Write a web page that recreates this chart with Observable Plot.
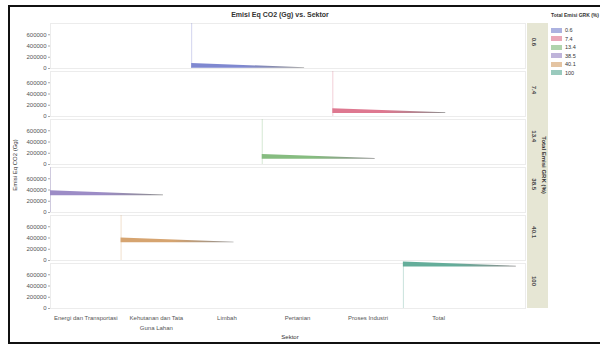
<!DOCTYPE html>
<html>
<head>
<meta charset="utf-8">
<script src="https://cdn.jsdelivr.net/npm/d3@7"></script>
<script src="https://cdn.jsdelivr.net/npm/@observablehq/plot@0.6"></script>
<style>
  html, body { margin: 0; padding: 0; background: #fff; }
  #chart { position: relative; width: 600px; height: 345px; overflow: hidden;
           font-family: "Liberation Sans", Arial, sans-serif; color: #333; }
  #chart svg { position: absolute; left: 0; top: 0; }
  .frame-border { position: absolute; left: 8px; top: 5px; width: 600px; height: 335px;
                  border-left: 2px solid #111; border-top: 2px solid #111; border-bottom: 2px solid #111; }
  .title { position: absolute; top: 11px; left: 160px; width: 240px; text-align: center;
           font-size: 7px; font-weight: bold; color: #333; }
  .ylabel { position: absolute; left: 15px; top: 165px; font-size: 6px; white-space: nowrap;
            transform: translate(-50%, -50%) rotate(-90deg); color: #333; }
  .xlabel { position: absolute; left: 290px; top: 337px; font-size: 6px; transform: translate(-50%, -50%); color: #333; }
  .striplabel { position: absolute; left: 544px; top: 165px; font-size: 6px; font-weight: bold; white-space: nowrap;
                transform: translate(-50%, -50%) rotate(90deg); color: #333; }
  .legend { position: absolute; left: 551px; top: 12px; font-size: 5.5px; color: #333; }
  .legend .ltitle { font-weight: bold; font-size: 5px; white-space: nowrap; margin-bottom: 8px; }
  .legend .item { display: flex; align-items: center; height: 8.5px; }
  .legend .sw { width: 11px; height: 5px; margin-right: 3px; }
</style>
</head>
<body>
<div id="chart"></div>
<script>
// Sectors, their emissions (Gg CO2-eq) and share of total emissions (%)
const sectors = ["Energi dan Transportasi", "Kehutanan dan Tata Guna Lahan", "Limbah", "Pertanian", "Proses Industri", "Total"];
const sectorTickLabels = ["Energi dan Transportasi", "Kehutanan dan Tata\nGuna Lahan", "Limbah", "Pertanian", "Proses Industri", "Total"];
const emissions = [300000, 315000, 4500, 95000, 55000, 740000];
const shares = [38.5, 40.1, 0.6, 13.4, 7.4, 100];

// Facet rows and legend entries, sorted by share
const shareOrder = [0.6, 7.4, 13.4, 38.5, 40.1, 100];
const shareLabels = ["0.6", "7.4", "13.4", "38.5", "40.1", "100"];
const shareColors = ["#7f88d0", "#de7890", "#86bc80", "#9c8cc6", "#d6a470", "#64ad9a"];

const yTicks = [0, 200000, 400000, 600000];

const colorOf = s => shareColors[shareOrder.indexOf(s)];
const rows = sectors.map((name, i) => ({name, idx: i, value: emissions[i], share: shares[i]}));

// Each wedge starts at its sector's slot and tapers off to the right
const wedgeLength = 1.6;
const wedgeThick = 85000;
const wedgeTip = 10000;
const wedgeMarks = rows.map(r => {
  const k = shareOrder.indexOf(r.share);
  const pts = [
    {x: r.idx, lo: r.value, hi: r.value + wedgeThick, share: r.share},
    {x: r.idx + wedgeLength, lo: r.value, hi: r.value + wedgeTip, share: r.share}
  ];
  return Plot.area(pts, {x1: "x", y1: "lo", y2: "hi", fy: "share", fill: `url(#wedge-${k})`, curve: "linear"});
});

const plot = Plot.plot({
  width: 600,
  height: 345,
  marginLeft: 50,
  marginRight: 75,
  marginTop: 21,
  marginBottom: 35,
  style: {fontFamily: "Liberation Sans, Arial, sans-serif", fontSize: "6px", color: "#444", background: "transparent", overflow: "visible"},
  x: {domain: [0, 6.73], axis: null},
  y: {domain: [0, 800000], axis: null},
  fy: {domain: shareOrder, paddingInner: 0.06, paddingOuter: 0, axis: null},
  marks: [
    Plot.frame({stroke: "#ececec"}),
    Plot.axisY({ticks: yTicks, tickFormat: d => String(d), tickSize: 2, tickPadding: 2, label: null, stroke: "#aaa", fill: "#555"}),
    Plot.axisX({
      ticks: sectors.map((_, i) => i + 0.5),
      tickFormat: (d, i) => sectorTickLabels[i],
      tickSize: 0, tickPadding: 5, label: null, lineHeight: 1.6, fill: "#555"
    }),
    Plot.ruleX(rows, {x: "idx", fy: "share", stroke: d => colorOf(d.share), strokeOpacity: 0.35, strokeWidth: 1}),
    ...wedgeMarks,
    Plot.text(rows, {fy: "share", frameAnchor: "right", dx: 8, rotate: 90, text: d => shareLabels[shareOrder.indexOf(d.share)], fontWeight: "bold", fill: "#444"})
  ]
});

// Horizontal gradients: sector colour fading to grey toward the tip
const svg = d3.select(plot);
const defs = svg.insert("defs", ":first-child");
shareColors.forEach((c, k) => {
  const g = defs.append("linearGradient").attr("id", `wedge-${k}`)
    .attr("x1", 0).attr("x2", 1).attr("y1", 0).attr("y2", 0);
  g.append("stop").attr("offset", "0%").attr("stop-color", c);
  g.append("stop").attr("offset", "45%").attr("stop-color", c);
  g.append("stop").attr("offset", "100%").attr("stop-color", "#8e8e8e");
});

// Beige strip behind the row labels on the right
const fy = plot.scale("fy");
const yTop = fy.apply(shareOrder[0]);
const yBot = fy.apply(shareOrder[shareOrder.length - 1]) + fy.bandwidth;
svg.insert("rect", "defs + *")
  .attr("x", 527).attr("width", 21)
  .attr("y", yTop).attr("height", yBot - yTop)
  .attr("fill", "#e6e6d4");

const chart = document.getElementById("chart");
chart.appendChild(plot);

const add = (cls, text) => {
  const d = document.createElement("div");
  d.className = cls;
  d.textContent = text;
  chart.appendChild(d);
  return d;
};
add("frame-border", "");
add("title", "Emisi Eq CO2 (Gg) vs. Sektor");
add("ylabel", "Emisi Eq CO2 (Gg)");
add("xlabel", "Sektor");
add("striplabel", "Total Emisi GRK (%)");

const legend = add("legend", "");
const lt = document.createElement("div");
lt.className = "ltitle";
lt.textContent = "Total Emisi GRK (%)";
legend.appendChild(lt);
shareLabels.forEach((lab, k) => {
  const it = document.createElement("div");
  it.className = "item";
  const sw = document.createElement("div");
  sw.className = "sw";
  sw.style.background = shareColors[k];
  sw.style.opacity = 0.65;
  const tx = document.createElement("span");
  tx.textContent = lab;
  it.appendChild(sw);
  it.appendChild(tx);
  legend.appendChild(it);
});
</script>
</body>
</html>
